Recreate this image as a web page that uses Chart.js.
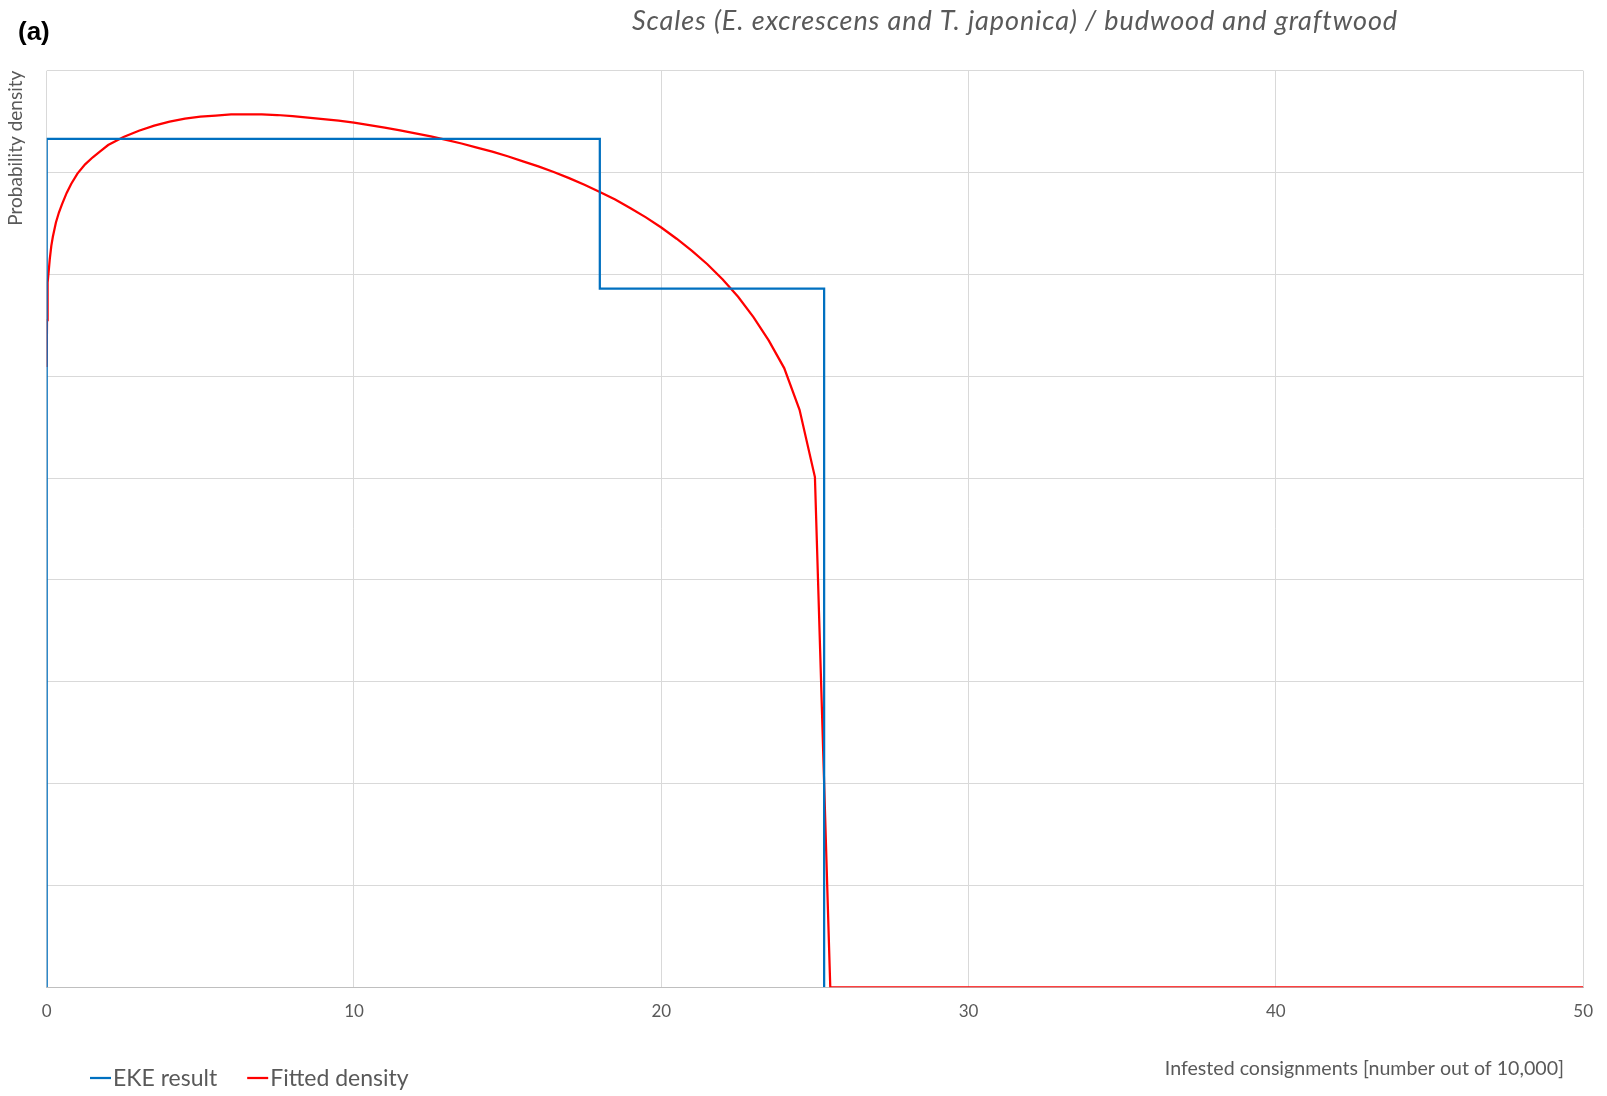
<!DOCTYPE html>
<html>
<head>
<meta charset="utf-8">
<script src="https://cdn.jsdelivr.net/npm/chart.js@4.4.1/dist/chart.umd.min.js"></script>
<style>
  html, body { margin: 0; padding: 0; background: #fff; }
</style>
</head>
<body>
<canvas id="myChart" width="1607" height="1096"></canvas>
<script>
// EKE result: step outline
const ekeX = [0, 0, 18, 18, 25.3, 25.3];
const ekeY = [0, 8.33, 8.33, 6.86, 6.86, 0];

// fitted density
const fitX = [0, 0.01, 0.02, 0.04, 0.07, 0.1, 0.15, 0.2, 0.3, 0.4, 0.5, 0.65, 0.8, 1, 1.25, 1.5, 1.75, 2, 2.5,
  3, 3.5, 4, 4.5, 5, 5.5, 6, 6.5, 7, 7.5, 8, 8.5, 9, 9.5, 10, 10.5, 11, 11.5, 12, 12.5, 13, 13.5, 14, 14.5,
  15, 15.5, 16, 16.5, 17, 17.5, 18, 18.5, 19, 19.5, 20, 20.5, 21, 21.5, 22, 22.5, 23, 23.5, 24, 24.5, 25, 25.5, 50];
const fitY = [6.09, 6.55, 6.75, 6.92, 7.05, 7.15, 7.28, 7.37, 7.51, 7.61, 7.69, 7.80, 7.89, 7.99, 8.08, 8.15, 8.21, 8.27, 8.35,
  8.41, 8.46, 8.50, 8.53, 8.55, 8.56, 8.57, 8.57, 8.57, 8.565, 8.555, 8.54, 8.525, 8.51, 8.49, 8.465, 8.44, 8.415, 8.385, 8.355, 8.32, 8.285, 8.245, 8.205,
  8.16, 8.11, 8.06, 8.005, 7.945, 7.88, 7.81, 7.735, 7.65, 7.56, 7.46, 7.35, 7.23, 7.10, 6.95, 6.78, 6.58, 6.35, 6.08, 5.67, 5.01, 0, 0];

const xTicks = [0, 10, 20, 30, 40, 50];

const chartTitle = 'Scales (E. excrescens and T. japonica) / budwood and graftwood';
const xTitle = 'Infested consignments [number out of 10,000]';
const yTitle = 'Probability density';

const toPoints = (xs, ys) => xs.map((x, i) => ({ x: x, y: ys[i] }));

// draws panel tag, title, x-axis title and legend
const textPlugin = {
  id: 'texts',
  afterDraw(chart) {
    const ctx = chart.ctx;
    ctx.save();
    ctx.textBaseline = 'alphabetic';
    ctx.fillStyle = '#000';
    ctx.font = 'bold 26px "Liberation Sans"';
    ctx.fillText('(a)', 18, 40);

    ctx.fillStyle = '#595959';
    ctx.font = 'italic 27px Lato';
    ctx.letterSpacing = '0.9px';
    ctx.fillText(chartTitle, 632, 30, 766);
    ctx.letterSpacing = '0px';

    ctx.font = '19.6px Lato';
    ctx.textAlign = 'right';
    ctx.fillText(xTitle, 1564, 1075);

    ctx.textAlign = 'left';
    ctx.font = '23px Lato';
    let cx = 90;
    chart.data.datasets.forEach(ds => {
      ctx.strokeStyle = ds.borderColor;
      ctx.lineWidth = 2.25;
      ctx.beginPath();
      ctx.moveTo(cx, 1078);
      ctx.lineTo(cx + 21, 1078);
      ctx.stroke();
      ctx.fillStyle = '#595959';
      ctx.fillText(ds.label, cx + 23, 1086);
      cx += 23 + ctx.measureText(ds.label).width + 30;
    });
    ctx.restore();
  }
};

const data = {
  datasets: [{
    label: 'EKE result',
    borderColor: '#0070C0',
    borderWidth: 2.25,
    data: toPoints(ekeX, ekeY)
  }, {
    label: 'Fitted density',
    borderColor: '#FF0000',
    borderWidth: 2.25,
    data: toPoints(fitX, fitY)
  }]
};

const config = {
  type: 'line',
  data: data,
  options: {
    responsive: false,
    animation: false,
    layout: {
      padding: { top: 70.7, right: 22, left: 0, bottom: 0 }
    },
    scales: {
      x: {
        type: 'linear',
        min: 0,
        max: 50,
        afterBuildTicks(scale) {
          scale.ticks = xTicks.map(v => ({ value: v }));
        },
        afterFit(scale) { scale.height = 108.7; },
        ticks: {
          color: '#595959',
          font: { family: 'Lato', size: 17 },
          padding: 14,
          maxRotation: 0
        },
        grid: { color: '#d9d9d9', drawTicks: false },
        border: { color: '#bfbfbf' }
      },
      y: {
        min: 0,
        max: 9,
        afterFit(scale) { scale.width = 46.7; },
        ticks: { stepSize: 1, display: false },
        grid: {
          color: (c) => c.tick && c.tick.value === 0 ? '#bfbfbf' : '#d9d9d9',
          drawTicks: false
        },
        border: { display: false },
        title: {
          display: true,
          text: yTitle,
          align: 'end',
          color: '#595959',
          font: { family: 'Lato', size: 19 },
          padding: { top: 4, bottom: 0 }
        }
      }
    },
    elements: {
      point: { radius: 0 },
      line: { tension: 0 }
    },
    plugins: {
      legend: { display: false },
      tooltip: { enabled: false }
    }
  },
  plugins: [textPlugin]
};

var myChart = new Chart(
  document.getElementById('myChart'),
  config
);
</script>
</body>
</html>
